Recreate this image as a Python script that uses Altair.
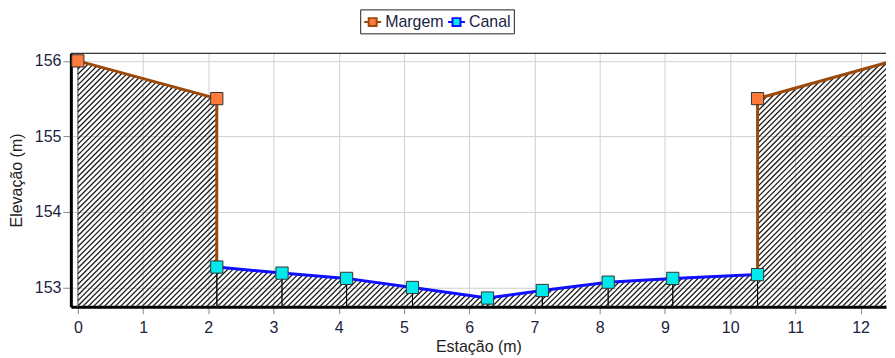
import altair as alt
import pandas as pd

# ---------------- data ----------------
series_names = ["Margem", "Canal"]
margem_x = [0.0, 2.13, 10.42, 12.5]
margem_y = [156.0, 155.5, 155.5, 156.0]
canal_x = [2.13, 3.13, 4.12, 5.13, 6.28, 7.12, 8.13, 9.12, 10.42]
canal_y = [153.27, 153.19, 153.12, 153.0, 152.86, 152.96, 153.07, 153.12, 153.17]

# ---------------- layout / style ----------------
X_DOMAIN = [-0.107, 12.389]
Y_DOMAIN = [152.745, 156.10]
W, H = 817, 254
FONT = "Liberation Sans"
TXT = "#1c2340"
BROWN = "#9b4a0c"
BLUE = "#1010ff"
ORANGE = "#ff7b3c"
CYAN = "#00eaee"
LIGHT = "#fcf9ed"
DARK = "#1e1e1e"
HATCH_PERIOD = 5.4     # px, measured horizontally
HATCH_WIDTH = 1.3      # px
NBSP = "\u00a0"

# tick positions (axis decoration: majors at integers, minors at quarters)
x_ticks = [i * 0.25 for i in range(int(X_DOMAIN[1] / 0.25) + 1)]
y_ticks = [153 + i * 0.25 for i in range(13)]

# ---------------- tables ----------------
terrain_pts = [(margem_x[0], margem_y[0]), (margem_x[1], margem_y[1])]
terrain_pts += list(zip(canal_x, canal_y))
terrain_pts += [(margem_x[2], margem_y[2]), (margem_x[3], margem_y[3])]
terrain_df = pd.DataFrame({"i": range(len(terrain_pts)),
                           "x": [p[0] for p in terrain_pts],
                           "y": [p[1] for p in terrain_pts]})

line_rows = []
left = [(margem_x[0], margem_y[0]), (margem_x[1], margem_y[1]), (canal_x[0], canal_y[0])]
right = [(canal_x[-1], canal_y[-1]), (margem_x[2], margem_y[2]), (margem_x[3], margem_y[3])]
for i, (a, b) in enumerate(left):
    line_rows.append({"series": "Margem", "seg": "L", "i": i, "x": a, "y": b})
for i, (a, b) in enumerate(zip(canal_x, canal_y)):
    line_rows.append({"series": "Canal", "seg": "C", "i": i, "x": a, "y": b})
for i, (a, b) in enumerate(right):
    line_rows.append({"series": "Margem", "seg": "R", "i": i, "x": a, "y": b})
lines_df = pd.DataFrame(line_rows)

pts_df = pd.DataFrame(
    [{"series": "Margem", "x": a, "y": b} for a, b in zip(margem_x, margem_y)]
    + [{"series": "Canal", "x": a, "y": b} for a, b in zip(canal_x, canal_y)]
)
canal_df = pd.DataFrame({"x": canal_x, "y": canal_y})


# ---------------- hatch texture clipped to the terrain polygon ----------------
def px(v):
    return (v - X_DOMAIN[0]) / (X_DOMAIN[1] - X_DOMAIN[0]) * W


def py(v):
    return (Y_DOMAIN[1] - v) / (Y_DOMAIN[1] - Y_DOMAIN[0]) * H


def inv_x(X):
    return X_DOMAIN[0] + X / W * (X_DOMAIN[1] - X_DOMAIN[0])


def inv_y(Y):
    return Y_DOMAIN[1] - Y / H * (Y_DOMAIN[1] - Y_DOMAIN[0])


poly = [(px(a), py(b)) for a, b in terrain_pts]
poly += [(px(terrain_pts[-1][0]), py(Y_DOMAIN[0])), (px(terrain_pts[0][0]), py(Y_DOMAIN[0]))]
sums = [X + Y for X, Y in poly]
hatch_rows = []
c = min(sums) + HATCH_PERIOD / 2
while c < max(sums):
    hits = []
    n = len(poly)
    for j in range(n):
        (X1, Y1), (X2, Y2) = poly[j], poly[(j + 1) % n]
        f1, f2 = X1 + Y1 - c, X2 + Y2 - c
        if (f1 > 0) != (f2 > 0):
            t = f1 / (f1 - f2)
            hits.append((X1 + t * (X2 - X1), Y1 + t * (Y2 - Y1)))
    hits.sort()
    for a, b in zip(hits[0::2], hits[1::2]):
        hatch_rows.append({"x": inv_x(a[0]), "y": inv_y(a[1]),
                           "x2": inv_x(b[0]), "y2": inv_y(b[1])})
    c += HATCH_PERIOD
hatch_df = pd.DataFrame(hatch_rows)

xscale = alt.Scale(domain=X_DOMAIN, nice=False, zero=False)
yscale = alt.Scale(domain=Y_DOMAIN, nice=False, zero=False)

is_int = "abs(datum.value - round(datum.value)) < 1e-6"
xaxis = alt.Axis(
    values=x_ticks, format="d", labelExpr=f"{is_int} ? datum.label : ''",
    tickSize={"condition": {"test": is_int, "value": 7}, "value": 4},
    gridOpacity={"condition": {"test": is_int, "value": 1}, "value": 0},
    grid=True, gridColor="#cfcfcf", gridWidth=1,
    domainColor="black", domainWidth=3, tickColor="#8a8a8a", tickWidth=1,
    labelFont=FONT, labelFontSize=16, labelColor=TXT, labelPadding=6,
    labelFlush=False, labelOverlap=False,
    title="Estação (m)", titleFont=FONT, titleFontSize=16,
    titleFontWeight="normal", titleColor="#222222", titlePadding=3,
)
yaxis = alt.Axis(
    values=y_ticks, format="d", labelExpr=f"{is_int} ? datum.label : ''",
    tickSize={"condition": {"test": is_int, "value": 8}, "value": 4},
    gridOpacity={"condition": {"test": is_int, "value": 1}, "value": 0},
    grid=True, gridColor="#cfcfcf", gridWidth=1,
    domainColor="black", domainWidth=3, tickColor="#8a8a8a", tickWidth=1,
    labelFont=FONT, labelFontSize=16, labelColor=TXT, labelPadding=2,
    labelFlush=False, labelOverlap=False,
    title="Elevação (m)", titleFont=FONT, titleFontSize=16,
    titleFontWeight="normal", titleColor="#222222", titlePadding=10,
)

SYM = "M-1,0H-0.47M0.47,0H1M-0.47,-0.47H0.47V0.47H-0.47Z"


def build(use_encode):
    legend_kw = dict(
        orient="none", legendX=290, legendY=-44, direction="horizontal",
        title=None, symbolType=SYM, symbolSize=289, symbolStrokeWidth=2,
        labelFont=FONT, labelFontSize=16, labelColor=TXT, labelOffset=3,
        columnPadding=0, padding=3, strokeColor="#222222", fillColor="white",
        gridAlign="each", columns=2,
        labelExpr="datum.label === 'Canal' ? 'Canal" + NBSP * 8 + "' : datum.label",
    )
    if use_encode:
        legend_kw["encode"] = {"symbols": {"update": {
            "fill": {"condition": {"test": "datum.value === 'Margem'", "value": ORANGE},
                     "value": CYAN},
            "fillOpacity": {"value": 1}}}}
    else:
        legend_kw["symbolFillColor"] = ORANGE
    legend = alt.Legend(**legend_kw)

    area = alt.Chart(terrain_df).mark_area(
        fill=LIGHT, stroke="#8a8a8a", strokeWidth=1, clip=True
    ).encode(
        x=alt.X("x:Q", scale=xscale, axis=xaxis),
        y=alt.Y("y:Q", scale=yscale, axis=yaxis),
        y2=alt.datum(Y_DOMAIN[0]),
        order=alt.Order("i:Q"),
    )
    hatch = alt.Chart(hatch_df).mark_rule(
        color=DARK, strokeWidth=HATCH_WIDTH, clip=True
    ).encode(x="x:Q", y="y:Q", x2="x2:Q", y2="y2:Q")
    top_rule = alt.Chart(alt.Data(values=[{}])).mark_rule(
        color="black", strokeWidth=1
    ).encode(y=alt.datum(Y_DOMAIN[1]))
    drops = alt.Chart(canal_df).mark_rule(color="black", strokeWidth=1).encode(
        x="x:Q", y="y:Q", y2=alt.datum(Y_DOMAIN[0])
    )
    lines = alt.Chart(lines_df).mark_line(strokeWidth=3, clip=True).encode(
        x="x:Q", y="y:Q",
        stroke=alt.Stroke("series:N",
                          scale=alt.Scale(domain=series_names, range=[BROWN, BLUE]),
                          legend=legend),
        detail="seg:N",
        order=alt.Order("i:Q"),
    )
    markers = alt.Chart(pts_df).mark_point(
        shape="square", filled=True, size=150, stroke="#333333",
        strokeWidth=1, opacity=1, clip=True
    ).encode(
        x="x:Q", y="y:Q",
        fill=alt.Fill("series:N",
                      scale=alt.Scale(domain=series_names, range=[ORANGE, CYAN]),
                      legend=None),
    )
    ch = alt.layer(area, hatch, top_rule, drops, lines, markers).properties(
        width=W, height=H,
        padding={"left": 0, "top": 0, "right": 0, "bottom": 0},
    ).configure_view(stroke=None)
    return ch


try:
    chart = build(True)
    chart.to_dict()
except Exception:
    chart = build(False)

chart.save("out.html", embed_options={"renderer": "svg", "actions": False})
